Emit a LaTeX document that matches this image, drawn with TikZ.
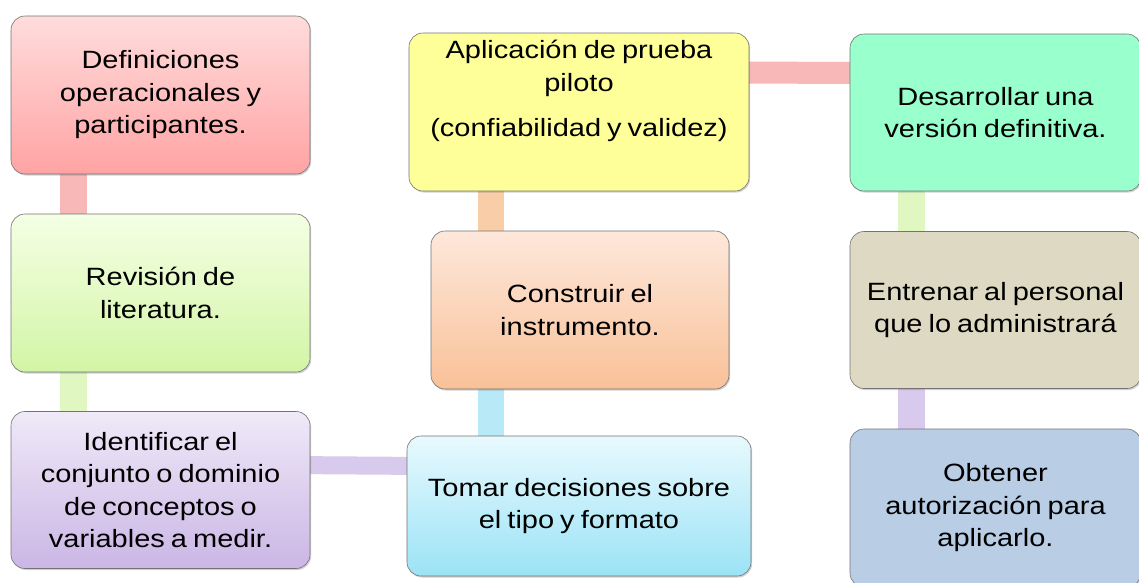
\documentclass[tikz,border=0pt]{standalone}
\usepackage{fontspec}
\setmainfont{Liberation Sans}[FakeStretch=1.16,WordSpace=0.75]
\usetikzlibrary{shadows,backgrounds}
\definecolor{aTop}{HTML}{FFDCDC}\definecolor{aBot}{HTML}{FFA3A3}
\definecolor{bTop}{HTML}{F4FFE4}\definecolor{bBot}{HTML}{D3F5A6}
\definecolor{cTop}{HTML}{EFE9F8}\definecolor{cBot}{HTML}{CBB6E5}
\definecolor{dTop}{HTML}{E8F9FE}\definecolor{dBot}{HTML}{9BE3F6}
\definecolor{eTop}{HTML}{FDE8DB}\definecolor{eBot}{HTML}{F9C198}
\definecolor{fFill}{HTML}{FFFF99}
\definecolor{gFill}{HTML}{99FFCC}
\definecolor{hFill}{HTML}{DDD9C3}
\definecolor{iFill}{HTML}{B9CDE5}
\definecolor{barPink}{HTML}{F9B8B8}
\definecolor{barGreen}{HTML}{E0F7C2}
\definecolor{barLav}{HTML}{D8CAEC}
\definecolor{barCyan}{HTML}{B8E9F6}
\definecolor{barPeach}{HTML}{F9CDA8}
\tikzset{
  box/.style={draw=black!55, line width=0.6pt, rounded corners=14pt,
    align=center, font=\fontsize{25}{32.5}\selectfont, inner sep=0pt,
    drop shadow={shadow xshift=1.2pt, shadow yshift=-1.5pt, opacity=0.3, fill=black!60}},
  txt/.style={align=center, font=\fontsize{25}{32.5}\selectfont, inner sep=0pt},
  bar/.style={line width=#1},
}
\begin{document}
\begin{tikzpicture}[x=1pt,y=-1pt]
\useasboundingbox (0,0) rectangle (1139,582);
\clip (0,0) rectangle (1139,582);
\node[box, top color=aTop, bottom color=aBot, minimum width=299pt, minimum height=158pt] (A) at (160.5,95) {Definiciones\\operacionales y\\participantes.};
\node[box, top color=bTop, bottom color=bBot, minimum width=299pt, minimum height=158pt] (B) at (160.5,293) {Revisión de\\literatura.};
\node[box, top color=cTop, bottom color=cBot, minimum width=299pt, minimum height=157pt] (C) at (160.5,490) {Identificar el\\conjunto o dominio\\de conceptos o\\variables a medir.};
\node[box, top color=dTop, bottom color=dBot, minimum width=344pt, minimum height=140pt] (D) at (579,506) {Tomar decisiones sobre\\el tipo y formato};
\node[box, top color=eTop, bottom color=eBot, minimum width=298pt, minimum height=158pt] (E) at (580,310) {Construir el\\instrumento.};
\node[box, fill=fFill, minimum width=340pt, minimum height=158pt] (F) at (579,112) {};
\node[txt] (Ft) at (579,91) {Aplicación de prueba\\piloto\\[13pt](confiabilidad y validez)};
\node[box, fill=gFill, minimum width=291pt, minimum height=157pt] (G) at (995.5,112.5) {Desarrollar una\\versión definitiva.};
\node[box, fill=hFill, minimum width=291pt, minimum height=157pt] (H) at (995.5,310) {Entrenar al personal\\que lo administrará};
\node[box, fill=iFill, minimum width=291pt, minimum height=158pt] (I) at (995.5,508) {Obtener\\autorización para\\aplicarlo.};
\begin{scope}[on background layer]
\fill[white] (0,0) rectangle (1139,582);
\draw[bar=27pt, barPink] ([xshift=-87.5pt,yshift=10pt]A.south) -- ([xshift=-87.5pt,yshift=-10pt]B.north);
\draw[bar=27pt, barGreen] ([xshift=-87.5pt,yshift=10pt]B.south) -- ([xshift=-87.5pt,yshift=-10pt]C.north);
\draw[bar=18pt, barLav] ([xshift=-20pt,yshift=25pt]C.east) -- ([xshift=20pt,yshift=40pt]D.west);
\draw[bar=26pt, barCyan] ([xshift=-88pt,yshift=-10pt]D.north) -- ([xshift=-89pt,yshift=10pt]E.south);
\draw[bar=26pt, barPeach] ([xshift=-89pt,yshift=-10pt]E.north) -- ([xshift=-88pt,yshift=10pt]F.south);
\draw[bar=22pt, barPink] ([xshift=-20pt,yshift=39.5pt]F.east) -- ([xshift=20pt,yshift=39.5pt]G.west);
\draw[bar=27pt, barGreen] ([xshift=-84.5pt,yshift=10pt]G.south) -- ([xshift=-84.5pt,yshift=-10pt]H.north);
\draw[bar=27pt, barLav] ([xshift=-84.5pt,yshift=10pt]H.south) -- ([xshift=-84.5pt,yshift=-10pt]I.north);
\end{scope}
\end{tikzpicture}
\end{document}
